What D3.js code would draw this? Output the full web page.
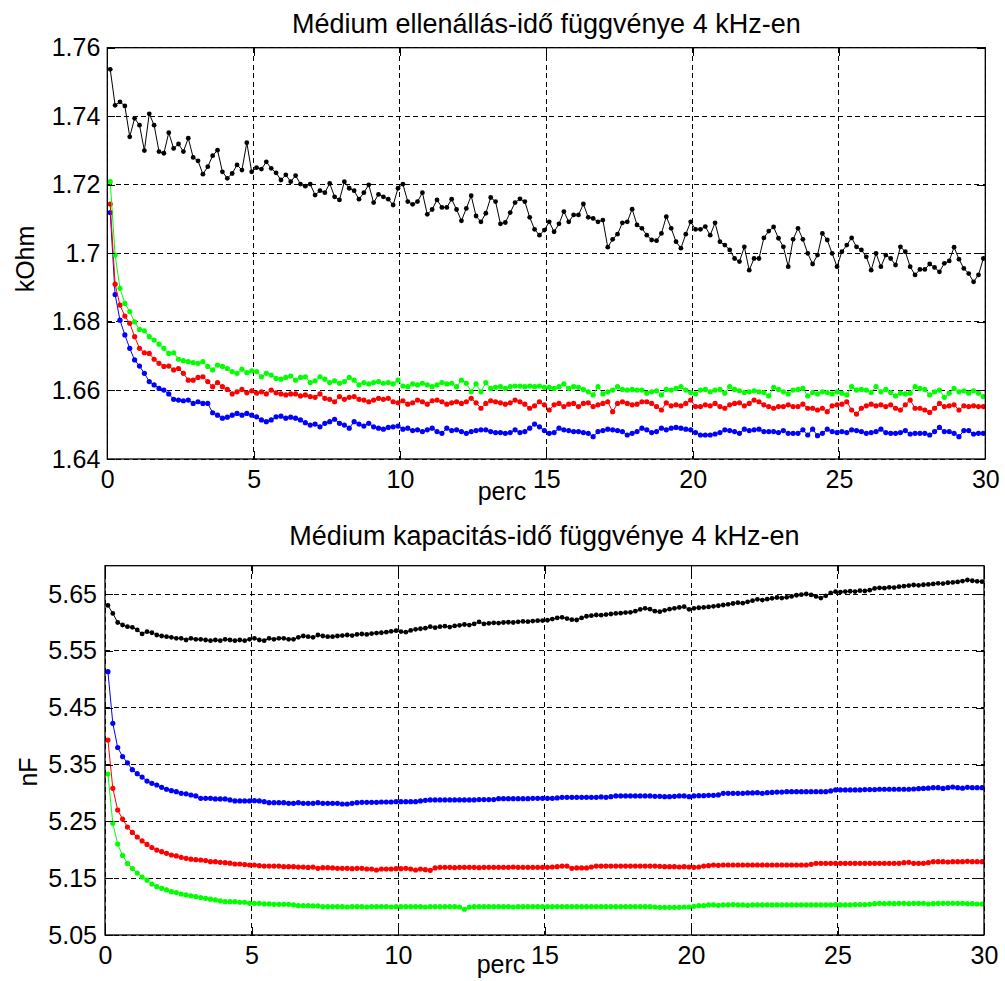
<!DOCTYPE html>
<html>
<head>
<meta charset="utf-8">
<script src="https://cdn.jsdelivr.net/npm/d3@7"></script>
<style>
  html, body { margin: 0; padding: 0; background: #fff; }
  svg { display: block; font-family: "Liberation Sans", Arial, Helvetica, sans-serif; }
</style>
</head>
<body>
<svg id="chart" width="1005" height="981"></svg>
<script>
// Sampling instants (seconds after start), one sample every 10 s
const seconds = [
  6,16,26,36,46,56,66,76,86,96,106,116,126,136,146,156,166,176,186,196,
  206,216,226,236,246,256,266,276,286,296,306,316,326,336,346,356,366,376,386,396,
  406,416,426,436,446,456,466,476,486,496,506,516,526,536,546,556,566,576,586,596,
  606,616,626,636,646,656,666,676,686,696,706,716,726,736,746,756,766,776,786,796,
  806,816,826,836,846,856,866,876,886,896,906,916,926,936,946,956,966,976,986,996,
  1006,1016,1026,1036,1046,1056,1066,1076,1086,1096,1106,1116,1126,1136,1146,1156,1166,1176,1186,1196,
  1206,1216,1226,1236,1246,1256,1266,1276,1286,1296,1306,1316,1326,1336,1346,1356,1366,1376,1386,1396,
  1406,1416,1426,1436,1446,1456,1466,1476,1486,1496,1506,1516,1526,1536,1546,1556,1566,1576,1586,1596,
  1606,1616,1626,1636,1646,1656,1666,1676,1686,1696,1706,1716,1726,1736,1746,1756,1766,1776,1786,1796
];

// Resistance (kOhm)
const resBlack = [
  1.7537,1.7432,1.7442,1.7430,1.7340,1.7394,1.7374,1.7300,1.7407,1.7374,
  1.7297,1.7292,1.7352,1.7306,1.7319,1.7297,1.7336,1.7280,1.7270,1.7231,
  1.7253,1.7285,1.7301,1.7238,1.7219,1.7233,1.7258,1.7243,1.7323,1.7238,
  1.7250,1.7246,1.7267,1.7248,1.7235,1.7214,1.7229,1.7209,1.7227,1.7202,
  1.7196,1.7202,1.7170,1.7183,1.7177,1.7204,1.7165,1.7156,1.7209,1.7190,
  1.7183,1.7158,1.7177,1.7200,1.7148,1.7172,1.7165,1.7158,1.7141,1.7190,
  1.7202,1.7151,1.7143,1.7151,1.7177,1.7114,1.7128,1.7156,1.7134,1.7134,
  1.7158,1.7128,1.7095,1.7131,1.7168,1.7109,1.7092,1.7117,1.7163,1.7151,
  1.7086,1.7090,1.7119,1.7148,1.7159,1.7151,1.7105,1.7070,1.7053,1.7068,
  1.7092,1.7063,1.7086,1.7122,1.7092,1.7112,1.7112,1.7144,1.7105,1.7102,
  1.7092,1.7097,1.7018,1.7041,1.7056,1.7089,1.7092,1.7129,1.7083,1.7073,
  1.7053,1.7039,1.7037,1.7058,1.7107,1.7073,1.7034,1.7015,1.7056,1.7092,
  1.7070,1.7070,1.7078,1.7053,1.7089,1.7034,1.7024,1.7010,1.6985,1.6976,
  1.7019,1.6951,1.6985,1.6985,1.7045,1.7065,1.7077,1.7044,1.7019,1.6961,
  1.7041,1.7073,1.7041,1.7000,1.6969,1.6995,1.7058,1.7039,1.7000,1.6961,
  1.7005,1.7024,1.7045,1.7019,1.7010,1.6990,1.6951,1.7000,1.6961,1.6995,
  1.6985,1.6966,1.7019,1.7005,1.6961,1.6937,1.6953,1.6953,1.6969,1.6959,
  1.6946,1.6971,1.6978,1.7018,1.6983,1.6956,1.6941,1.6917,1.6937,1.6985
];
const resBlue = [
  1.7119,1.6880,1.6805,1.6762,1.6723,1.6689,1.6671,1.6650,1.6626,1.6616,
  1.6606,1.6601,1.6590,1.6574,1.6572,1.6570,1.6572,1.6562,1.6567,1.6562,
  1.6562,1.6535,1.6528,1.6519,1.6522,1.6528,1.6533,1.6528,1.6533,1.6528,
  1.6523,1.6514,1.6509,1.6514,1.6523,1.6525,1.6519,1.6522,1.6519,1.6514,
  1.6506,1.6499,1.6502,1.6494,1.6504,1.6509,1.6516,1.6504,1.6499,1.6490,
  1.6509,1.6502,1.6496,1.6504,1.6494,1.6490,1.6487,1.6492,1.6494,1.6496,
  1.6487,1.6490,1.6483,1.6485,1.6480,1.6485,1.6490,1.6480,1.6475,1.6490,
  1.6483,1.6485,1.6480,1.6475,1.6480,1.6483,1.6485,1.6485,1.6480,1.6477,
  1.6477,1.6475,1.6477,1.6485,1.6477,1.6480,1.6490,1.6502,1.6494,1.6483,
  1.6475,1.6477,1.6490,1.6485,1.6483,1.6480,1.6480,1.6477,1.6475,1.6465,
  1.6480,1.6483,1.6487,1.6485,1.6483,1.6480,1.6470,1.6475,1.6480,1.6490,
  1.6485,1.6477,1.6480,1.6490,1.6485,1.6490,1.6492,1.6490,1.6487,1.6485,
  1.6477,1.6470,1.6470,1.6470,1.6473,1.6477,1.6485,1.6483,1.6480,1.6475,
  1.6487,1.6483,1.6485,1.6487,1.6480,1.6480,1.6480,1.6477,1.6483,1.6475,
  1.6475,1.6475,1.6485,1.6470,1.6487,1.6468,1.6475,1.6487,1.6480,1.6477,
  1.6480,1.6477,1.6485,1.6483,1.6480,1.6475,1.6477,1.6480,1.6487,1.6477,
  1.6475,1.6475,1.6477,1.6483,1.6473,1.6475,1.6475,1.6475,1.6470,1.6480,
  1.6492,1.6480,1.6480,1.6475,1.6465,1.6483,1.6483,1.6473,1.6475,1.6475
];
const resRed = [
  1.7144,1.6910,1.6849,1.6817,1.6796,1.6757,1.6723,1.6710,1.6708,1.6691,
  1.6679,1.6670,1.6671,1.6660,1.6664,1.6650,1.6630,1.6630,1.6638,1.6640,
  1.6626,1.6611,1.6623,1.6611,1.6603,1.6590,1.6596,1.6603,1.6593,1.6599,
  1.6592,1.6596,1.6590,1.6601,1.6593,1.6590,1.6587,1.6590,1.6590,1.6584,
  1.6587,1.6582,1.6580,1.6590,1.6577,1.6574,1.6567,1.6582,1.6574,1.6580,
  1.6582,1.6574,1.6572,1.6567,1.6572,1.6577,1.6574,1.6577,1.6567,1.6564,
  1.6570,1.6560,1.6564,1.6572,1.6567,1.6560,1.6570,1.6572,1.6567,1.6560,
  1.6564,1.6567,1.6562,1.6567,1.6577,1.6564,1.6548,1.6562,1.6570,1.6567,
  1.6564,1.6560,1.6564,1.6572,1.6567,1.6560,1.6548,1.6555,1.6567,1.6558,
  1.6543,1.6558,1.6562,1.6553,1.6560,1.6562,1.6553,1.6562,1.6564,1.6553,
  1.6558,1.6562,1.6567,1.6538,1.6562,1.6567,1.6562,1.6558,1.6560,1.6567,
  1.6567,1.6562,1.6553,1.6543,1.6564,1.6555,1.6558,1.6555,1.6562,1.6572,
  1.6553,1.6553,1.6558,1.6555,1.6562,1.6553,1.6548,1.6558,1.6562,1.6564,
  1.6555,1.6562,1.6572,1.6567,1.6558,1.6553,1.6548,1.6553,1.6553,1.6558,
  1.6553,1.6553,1.6560,1.6548,1.6548,1.6543,1.6548,1.6538,1.6555,1.6558,
  1.6560,1.6567,1.6543,1.6531,1.6548,1.6555,1.6560,1.6555,1.6558,1.6553,
  1.6558,1.6548,1.6543,1.6558,1.6572,1.6548,1.6548,1.6543,1.6536,1.6548,
  1.6562,1.6553,1.6555,1.6558,1.6543,1.6555,1.6553,1.6555,1.6553,1.6553
];
const resGreen = [
  1.7209,1.6995,1.6898,1.6854,1.6830,1.6800,1.6778,1.6774,1.6757,1.6747,
  1.6735,1.6723,1.6708,1.6710,1.6691,1.6687,1.6684,1.6681,1.6679,1.6684,
  1.6670,1.6660,1.6674,1.6670,1.6664,1.6655,1.6650,1.6662,1.6652,1.6657,
  1.6655,1.6640,1.6650,1.6645,1.6635,1.6633,1.6638,1.6642,1.6630,1.6638,
  1.6640,1.6623,1.6628,1.6640,1.6633,1.6623,1.6628,1.6621,1.6626,1.6638,
  1.6630,1.6616,1.6623,1.6619,1.6623,1.6626,1.6621,1.6623,1.6619,1.6630,
  1.6613,1.6611,1.6619,1.6616,1.6621,1.6616,1.6611,1.6616,1.6623,1.6619,
  1.6621,1.6611,1.6630,1.6621,1.6596,1.6619,1.6596,1.6623,1.6606,1.6609,
  1.6611,1.6606,1.6611,1.6613,1.6613,1.6611,1.6613,1.6611,1.6613,1.6609,
  1.6609,1.6606,1.6611,1.6619,1.6606,1.6611,1.6609,1.6603,1.6596,1.6587,
  1.6611,1.6590,1.6596,1.6601,1.6611,1.6603,1.6601,1.6603,1.6601,1.6601,
  1.6592,1.6596,1.6599,1.6587,1.6603,1.6601,1.6606,1.6611,1.6601,1.6594,
  1.6590,1.6601,1.6603,1.6596,1.6601,1.6603,1.6592,1.6611,1.6603,1.6599,
  1.6594,1.6596,1.6599,1.6596,1.6594,1.6584,1.6609,1.6603,1.6596,1.6590,
  1.6601,1.6603,1.6606,1.6584,1.6594,1.6590,1.6596,1.6594,1.6590,1.6596,
  1.6592,1.6587,1.6611,1.6601,1.6603,1.6601,1.6594,1.6611,1.6596,1.6603,
  1.6594,1.6584,1.6592,1.6590,1.6592,1.6611,1.6606,1.6603,1.6587,1.6596,
  1.6601,1.6580,1.6592,1.6606,1.6596,1.6599,1.6592,1.6599,1.6592,1.6582
];

// Capacitance (nF)
const capBlack = [
  5.6300,5.6160,5.6000,5.5956,5.5926,5.5916,5.5870,5.5800,5.5838,5.5820,
  5.5780,5.5763,5.5750,5.5740,5.5722,5.5722,5.5692,5.5722,5.5705,5.5705,
  5.5692,5.5680,5.5692,5.5680,5.5705,5.5692,5.5680,5.5692,5.5680,5.5705,
  5.5722,5.5692,5.5680,5.5722,5.5705,5.5722,5.5722,5.5705,5.5705,5.5740,
  5.5763,5.5750,5.5740,5.5780,5.5763,5.5750,5.5750,5.5763,5.5770,5.5780,
  5.5770,5.5790,5.5798,5.5790,5.5805,5.5815,5.5820,5.5830,5.5845,5.5856,
  5.5840,5.5830,5.5860,5.5880,5.5890,5.5900,5.5926,5.5910,5.5926,5.5935,
  5.5920,5.5940,5.5950,5.5965,5.5955,5.5975,5.6010,5.5975,5.5986,5.5995,
  5.5990,5.6000,5.6005,5.6000,5.6012,5.6020,5.6015,5.6025,5.6032,5.6035,
  5.6040,5.6060,5.6080,5.6092,5.6070,5.6050,5.6044,5.6080,5.6110,5.6120,
  5.6132,5.6130,5.6140,5.6150,5.6160,5.6165,5.6175,5.6180,5.6200,5.6230,
  5.6250,5.6235,5.6200,5.6190,5.6215,5.6235,5.6250,5.6265,5.6278,5.6233,
  5.6250,5.6260,5.6265,5.6275,5.6285,5.6295,5.6308,5.6320,5.6335,5.6350,
  5.6340,5.6365,5.6385,5.6409,5.6395,5.6410,5.6425,5.6440,5.6430,5.6444,
  5.6460,5.6480,5.6490,5.6502,5.6485,5.6460,5.6430,5.6470,5.6520,5.6542,
  5.6535,5.6545,5.6550,5.6545,5.6560,5.6555,5.6570,5.6600,5.6610,5.6605,
  5.6620,5.6615,5.6630,5.6640,5.6650,5.6660,5.6655,5.6665,5.6670,5.6680,
  5.6690,5.6685,5.6700,5.6705,5.6715,5.6730,5.6748,5.6735,5.6725,5.6718
];
const capBlue = [
  5.5134,5.4226,5.3800,5.3640,5.3530,5.3410,5.3340,5.3280,5.3210,5.3170,
  5.3140,5.3100,5.3065,5.3040,5.3022,5.2994,5.2985,5.2964,5.2947,5.2906,
  5.2906,5.2906,5.2895,5.2895,5.2895,5.2877,5.2859,5.2859,5.2859,5.2859,
  5.2865,5.2859,5.2847,5.2829,5.2829,5.2829,5.2829,5.2818,5.2818,5.2829,
  5.2818,5.2818,5.2818,5.2829,5.2818,5.2818,5.2818,5.2818,5.2806,5.2806,
  5.2818,5.2829,5.2835,5.2835,5.2835,5.2835,5.2841,5.2841,5.2841,5.2847,
  5.2847,5.2847,5.2847,5.2847,5.2859,5.2870,5.2877,5.2877,5.2877,5.2877,
  5.2877,5.2877,5.2877,5.2877,5.2877,5.2877,5.2883,5.2883,5.2883,5.2883,
  5.2899,5.2899,5.2899,5.2899,5.2899,5.2899,5.2899,5.2906,5.2906,5.2906,
  5.2906,5.2906,5.2912,5.2924,5.2924,5.2924,5.2924,5.2924,5.2924,5.2924,
  5.2924,5.2930,5.2924,5.2935,5.2947,5.2947,5.2947,5.2947,5.2947,5.2947,
  5.2947,5.2947,5.2941,5.2941,5.2935,5.2935,5.2941,5.2947,5.2947,5.2935,
  5.2947,5.2953,5.2953,5.2959,5.2959,5.2965,5.2994,5.2994,5.2994,5.2994,
  5.2994,5.3000,5.3000,5.3005,5.2994,5.3005,5.3010,5.3016,5.3016,5.3022,
  5.3022,5.3022,5.3022,5.3022,5.3022,5.3022,5.3022,5.3022,5.3035,5.3053,
  5.3053,5.3053,5.3053,5.3053,5.3053,5.3059,5.3059,5.3059,5.3065,5.3065,
  5.3065,5.3065,5.3065,5.3065,5.3065,5.3070,5.3076,5.3080,5.3085,5.3093,
  5.3093,5.3080,5.3093,5.3105,5.3093,5.3085,5.3100,5.3093,5.3093,5.3093
];
const capRed = [
  5.3932,5.3082,5.2700,5.2540,5.2400,5.2305,5.2225,5.2155,5.2095,5.2040,
  5.1995,5.1967,5.1938,5.1908,5.1891,5.1868,5.1850,5.1835,5.1825,5.1820,
  5.1810,5.1791,5.1791,5.1780,5.1773,5.1765,5.1750,5.1750,5.1740,5.1732,
  5.1732,5.1720,5.1714,5.1714,5.1714,5.1714,5.1703,5.1703,5.1703,5.1695,
  5.1695,5.1690,5.1695,5.1674,5.1685,5.1685,5.1680,5.1674,5.1674,5.1674,
  5.1668,5.1674,5.1674,5.1662,5.1662,5.1644,5.1662,5.1662,5.1662,5.1668,
  5.1668,5.1674,5.1662,5.1644,5.1662,5.1650,5.1638,5.1680,5.1691,5.1691,
  5.1691,5.1685,5.1691,5.1691,5.1691,5.1691,5.1685,5.1691,5.1691,5.1691,
  5.1691,5.1691,5.1691,5.1697,5.1691,5.1691,5.1691,5.1691,5.1691,5.1691,
  5.1691,5.1697,5.1703,5.1714,5.1714,5.1674,5.1680,5.1680,5.1680,5.1697,
  5.1714,5.1714,5.1714,5.1714,5.1714,5.1714,5.1714,5.1714,5.1714,5.1714,
  5.1714,5.1714,5.1714,5.1708,5.1703,5.1703,5.1703,5.1697,5.1703,5.1697,
  5.1691,5.1697,5.1714,5.1720,5.1732,5.1726,5.1732,5.1732,5.1732,5.1732,
  5.1732,5.1732,5.1732,5.1732,5.1732,5.1732,5.1732,5.1732,5.1732,5.1732,
  5.1732,5.1732,5.1732,5.1732,5.1744,5.1762,5.1762,5.1762,5.1762,5.1762,
  5.1762,5.1762,5.1762,5.1762,5.1762,5.1762,5.1762,5.1762,5.1762,5.1762,
  5.1762,5.1762,5.1762,5.1773,5.1780,5.1762,5.1762,5.1762,5.1773,5.1791,
  5.1791,5.1791,5.1785,5.1791,5.1791,5.1791,5.1797,5.1791,5.1791,5.1791
];
const capGreen = [
  5.3334,5.2466,5.2100,5.1900,5.1760,5.1670,5.1590,5.1520,5.1465,5.1398,
  5.1351,5.1322,5.1293,5.1263,5.1246,5.1222,5.1205,5.1190,5.1175,5.1160,
  5.1146,5.1130,5.1117,5.1100,5.1087,5.1087,5.1087,5.1076,5.1076,5.1058,
  5.1058,5.1058,5.1047,5.1047,5.1040,5.1040,5.1040,5.1040,5.1029,5.1017,
  5.1017,5.1017,5.1011,5.1011,5.0999,5.0999,5.0999,5.0999,5.0999,5.0993,
  5.0999,5.0999,5.0999,5.0993,5.0999,5.0999,5.0999,5.0999,5.0993,5.0999,
  5.0999,5.0999,5.0999,5.0999,5.0999,5.0993,5.0999,5.0999,5.0999,5.0999,
  5.0999,5.0999,5.0993,5.0953,5.0993,5.0999,5.0999,5.0999,5.0999,5.0999,
  5.0999,5.0999,5.0999,5.0993,5.0999,5.0999,5.0999,5.0999,5.0999,5.0999,
  5.0999,5.0999,5.0999,5.0999,5.0999,5.0999,5.0999,5.0999,5.0999,5.0999,
  5.0999,5.0999,5.0999,5.0999,5.0999,5.0999,5.0999,5.0999,5.0999,5.0999,
  5.0999,5.0999,5.0993,5.0987,5.0987,5.0987,5.0987,5.0987,5.0993,5.0993,
  5.1005,5.1017,5.1017,5.1029,5.1029,5.1023,5.1029,5.1029,5.1035,5.1029,
  5.1029,5.1023,5.1029,5.1029,5.1029,5.1029,5.1029,5.1029,5.1029,5.1029,
  5.1029,5.1029,5.1029,5.1029,5.1029,5.1029,5.1029,5.1029,5.1029,5.1035,
  5.1029,5.1029,5.1029,5.1035,5.1035,5.1035,5.1041,5.1052,5.1058,5.1052,
  5.1058,5.1052,5.1058,5.1058,5.1052,5.1058,5.1058,5.1058,5.1046,5.1052,
  5.1058,5.1058,5.1058,5.1058,5.1058,5.1058,5.1052,5.1052,5.1046,5.1046
];

// Axis ticks
const xTicks = [0, 5, 10, 15, 20, 25, 30];
const resTicks = [1.64, 1.66, 1.68, 1.70, 1.72, 1.74, 1.76];
const capTicks = [5.05, 5.15, 5.25, 5.35, 5.45, 5.55, 5.65];

// Texts
const resTitle = "Médium ellenállás-idő függvénye 4 kHz-en";
const capTitle = "Médium kapacitás-idő függvénye 4 kHz-en";
const xLabel = "perc";
const resUnit = "kOhm";
const capUnit = "nF";

const minutes = seconds.map(s => s / 60);

const svg = d3.select("#chart");
svg.append("rect").attr("width", 1005).attr("height", 981).attr("fill", "#fff");

const TICK_FONT = 25;
const TITLE_FONT = 27;

function drawPanel(opt) {
  const { left, right, top, bottom } = opt.box;
  const x = d3.scaleLinear().domain([0, 30]).range([left, right]);
  const y = d3.scaleLinear().domain(opt.yDomain).range([bottom, top]);
  const g = svg.append("g");

  // dashed grid
  const grid = g.append("g").attr("stroke", "#000").attr("stroke-width", 1)
    .attr("stroke-dasharray", "5,3.5").attr("shape-rendering", "crispEdges");
  grid.selectAll("line.v").data(xTicks).join("line").attr("class", "v")
    .attr("x1", d => x(d)).attr("x2", d => x(d)).attr("y1", top).attr("y2", bottom);
  grid.selectAll("line.h").data(opt.yTicks).join("line").attr("class", "h")
    .attr("x1", left).attr("x2", right).attr("y1", d => y(d)).attr("y2", d => y(d));

  // series: line + dot markers
  const line = d3.line().x((d, i) => x(minutes[i])).y(d => y(d));
  opt.series.forEach(s => {
    const sg = g.append("g");
    sg.append("path").datum(s.values).attr("d", line)
      .attr("fill", "none").attr("stroke", s.color).attr("stroke-width", 1);
    sg.selectAll("circle").data(s.values).join("circle")
      .attr("cx", (d, i) => x(minutes[i])).attr("cy", d => y(d))
      .attr("r", s.r).attr("fill", s.color);
  });

  // axes with inward ticks on all four sides
  const tl = 8;
  const axB = g.append("g").attr("transform", `translate(0,${bottom})`)
    .call(d3.axisBottom(x).tickValues(xTicks).tickSize(-tl).tickPadding(11).tickFormat(d => String(d)));
  const axT = g.append("g").attr("transform", `translate(0,${top})`)
    .call(d3.axisTop(x).tickValues(xTicks).tickSize(-tl).tickFormat(""));
  const axL = g.append("g").attr("transform", `translate(${left},0)`)
    .call(d3.axisLeft(y).tickValues(opt.yTicks).tickSize(-tl).tickPadding(opt.yPad).tickFormat(d => String(+d.toFixed(2))));
  const axR = g.append("g").attr("transform", `translate(${right},0)`)
    .call(d3.axisRight(y).tickValues(opt.yTicks).tickSize(-tl).tickFormat(""));
  [axB, axT, axL, axR].forEach(a => {
    a.select(".domain").remove();
    a.selectAll(".tick line").attr("stroke", "#000").attr("stroke-width", 1).attr("shape-rendering", "crispEdges");
    a.selectAll("text").attr("font-size", TICK_FONT).attr("fill", "#000")
      .attr("font-family", "Liberation Sans, Arial, Helvetica, sans-serif");
  });

  // frame
  g.append("rect").attr("x", left).attr("y", top)
    .attr("width", right - left).attr("height", bottom - top)
    .attr("fill", "none").attr("stroke", "#000").attr("stroke-width", 1.3);

  // title and labels
  g.append("text").attr("x", (left + right) / 2).attr("y", opt.titleY)
    .attr("text-anchor", "middle").attr("font-size", TITLE_FONT).text(opt.title);
  g.append("text").attr("x", opt.xLabelX).attr("y", opt.xLabelY)
    .attr("text-anchor", "middle").attr("font-size", TICK_FONT).text(xLabel);
  g.append("text").attr("transform", `translate(${opt.yLabelX},${opt.yLabelY}) rotate(-90)`)
    .attr("text-anchor", "middle").attr("font-size", TICK_FONT).text(opt.unit);
}

drawPanel({
  box: { left: 107.3, right: 985.3, top: 47.7, bottom: 459 },
  yDomain: [1.64, 1.76], yTicks: resTicks, yPad: 7,
  series: [
    { values: resBlack, color: "#000000", r: 2.4 },
    { values: resBlue, color: "#0000ff", r: 2.6 },
    { values: resRed, color: "#ff0000", r: 2.6 },
    { values: resGreen, color: "#00ff00", r: 2.6 }
  ],
  title: resTitle, titleY: 33,
  xLabelX: 502, xLabelY: 500,
  unit: resUnit, yLabelX: 34, yLabelY: 259
});

drawPanel({
  box: { left: 105, right: 984, top: 565.7, bottom: 935 },
  yDomain: [5.05, 5.70], yTicks: capTicks, yPad: 8,
  series: [
    { values: capBlack, color: "#000000", r: 2.4 },
    { values: capBlue, color: "#0000ff", r: 2.6 },
    { values: capRed, color: "#ff0000", r: 2.6 },
    { values: capGreen, color: "#00ff00", r: 2.6 }
  ],
  title: capTitle, titleY: 545,
  xLabelX: 501, xLabelY: 973,
  unit: capUnit, yLabelX: 37, yLabelY: 772
});
</script>
</body>
</html>
